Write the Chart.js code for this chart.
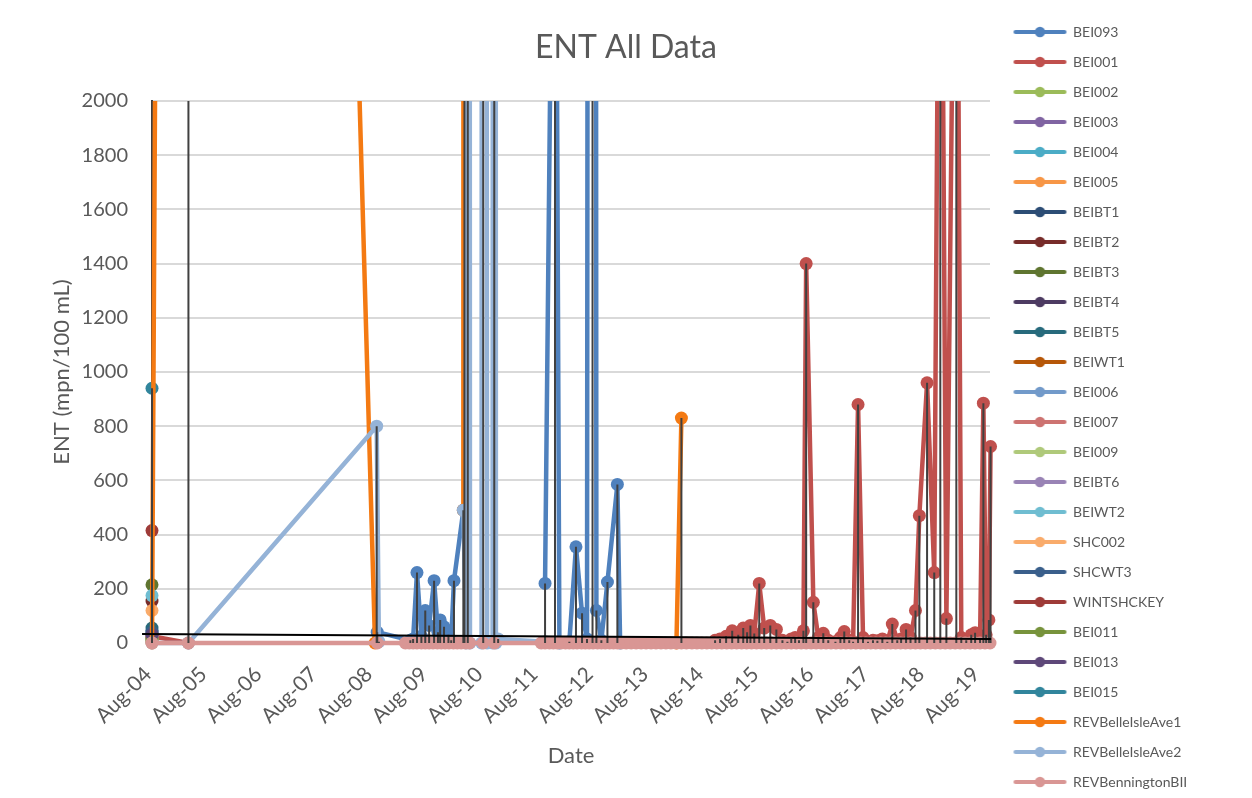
<!DOCTYPE html>
<html>
<head>
<meta charset="utf-8">
<title>ENT All Data</title>
<script src="https://cdn.jsdelivr.net/npm/chart.js@4.4.1/dist/chart.umd.min.js"></script>
<style>
  html, body { margin: 0; padding: 0; background: #ffffff; }
  #wrap { width: 1252px; height: 798px; }
</style>
</head>
<body>
<div id="wrap"><canvas id="entChart" width="1252" height="798"></canvas></div>
<script>
// Sample dates are decimal years; values are ENT in MPN/100 mL.
// A null entry marks a break in a station's record.

const tickYears  = [2004.58, 2005.58, 2006.58, 2007.58, 2008.58, 2009.58, 2010.58, 2011.58,
                    2012.58, 2013.58, 2014.58, 2015.58, 2016.58, 2017.58, 2018.58, 2019.58];
const tickLabels = ['Aug-04', 'Aug-05', 'Aug-06', 'Aug-07', 'Aug-08', 'Aug-09', 'Aug-10', 'Aug-11',
                    'Aug-12', 'Aug-13', 'Aug-14', 'Aug-15', 'Aug-16', 'Aug-17', 'Aug-18', 'Aug-19'];

const BEI093 = [
  [2008.66, 40], [2009.26, 10], [2009.31, 15], [2009.38, 260], [2009.46, 25], [2009.53, 120],
  [2009.60, 65], [2009.69, 230], [2009.76, 40], [2009.80, 85], [2009.87, 60], [2009.95, 30],
  [2010.00, 10], [2010.05, 230], [2010.22, 490], null,
  [2011.70, 220], [2011.88, 3800], [2011.96, 0], [2012.14, 5], [2012.26, 355], [2012.37, 110],
  [2012.46, 15], [2012.56, 24196], [2012.63, 120], [2012.72, 10], [2012.83, 225], [2013.01, 585],
  [2013.06, 0]
];
const BEI001 = [
  [2004.58, 25], [2005.24, 0], null,
  [2014.78, 10], [2014.87, 15], [2014.98, 25], [2015.09, 45], [2015.20, 30], [2015.29, 55],
  [2015.36, 40], [2015.42, 65], [2015.49, 35], [2015.58, 220], [2015.67, 55], [2015.78, 65],
  [2015.89, 50], [2016.00, 10], [2016.09, 5], [2016.16, 15], [2016.23, 20], [2016.30, 10],
  [2016.38, 45], [2016.43, 1400], [2016.56, 150], [2016.65, 20], [2016.74, 36], [2016.83, 10],
  [2016.96, 5], [2017.05, 20], [2017.12, 42], [2017.21, 10], [2017.28, 5], [2017.37, 880],
  [2017.46, 20], [2017.55, 5], [2017.64, 10], [2017.72, 8], [2017.81, 15], [2017.90, 5],
  [2017.99, 70], [2018.08, 10], [2018.15, 15], [2018.24, 50], [2018.32, 20], [2018.41, 120],
  [2018.48, 470], [2018.62, 960], [2018.75, 260], [2018.86, 3700], [2018.97, 90], [2019.15, 3600],
  [2019.24, 20], [2019.33, 10], [2019.42, 30], [2019.49, 38], [2019.58, 15], [2019.64, 885],
  [2019.69, 30], [2019.74, 85], [2019.77, 725]
];
const BEI002 = [[2004.58, 20]];
const BEI003 = [[2004.58, 30]];
const BEI004 = [[2004.58, 15]];
const BEI005 = [[2004.58, 10]];
const BEIBT1 = [[2004.58, 45]];
const BEIBT2 = [[2004.58, 155]];
const BEIBT3 = [[2004.58, 215]];
const BEIBT4 = [[2004.58, 35]];
const BEIBT5 = [[2004.58, 55]];
const BEIWT1 = [[2004.58, 20]];
const BEI006 = [[2004.58, 10]];
const BEI007 = [[2004.58, 5]];
const BEI009 = [[2004.58, 10]];
const BEIBT6 = [[2004.58, 25]];
const BEIWT2 = [[2004.58, 175]];
const SHC002 = [[2004.58, 120]];
const SHCWT3 = [[2004.58, 40]];
const WINTSHCKEY = [[2004.58, 415]];
const BEI011 = [[2004.58, 15]];
const BEI013 = [[2004.58, 30]];
const BEI015 = [[2004.58, 940]];
const REVBelleIsleAve1 = [
  [2004.58, 0], [2005.24, 24196], [2008.62, 0], null,
  [2010.22, 490], [2010.24, 24196], null,
  [2014.08, 0], [2014.17, 830]
];
const REVBelleIsleAve2 = [
  [2004.58, 0], [2005.24, 0], [2008.65, 800], [2008.69, 5], null,
  [2010.22, 490], [2010.27, 0], [2010.30, 24196], [2010.34, 0], [2010.55, 0], [2010.58, 24196],
  [2010.65, 0], [2010.75, 0], [2010.78, 24196], [2010.81, 0], [2010.85, 15], [2011.70, 5]
];
const REVBenningtonBII = [
  [2004.58, 0], [2005.24, 0], [2008.66, 0],
  [2009.17, 0], [2009.24, 0], [2009.31, 0], [2009.38, 0], [2009.46, 0], [2009.53, 0], [2009.60, 0],
  [2009.67, 0], [2009.75, 0], [2009.82, 0], [2009.89, 0], [2009.96, 0], [2010.04, 0], [2010.11, 0],
  [2010.18, 0], [2010.26, 0], [2010.33, 0], [2010.58, 0], [2010.78, 0],
  [2011.63, 0], [2011.70, 0], [2011.78, 0], [2011.85, 0], [2011.92, 0], [2011.99, 0], [2012.07, 0],
  [2012.14, 0], [2012.21, 0], [2012.28, 0], [2012.36, 0], [2012.43, 0], [2012.50, 0], [2012.57, 0],
  [2012.65, 0], [2012.72, 0], [2012.79, 0], [2012.87, 0], [2012.94, 0], [2013.01, 0], [2013.08, 0],
  [2013.17, 0], [2013.26, 0], [2013.35, 0], [2013.44, 0], [2013.53, 0], [2013.62, 0], [2013.71, 0],
  [2013.80, 0], [2013.89, 0], [2013.98, 0], [2014.08, 0], [2014.17, 0], [2014.26, 0], [2014.36, 0],
  [2014.45, 0], [2014.54, 0], [2014.63, 0], [2014.72, 0], [2014.81, 0], [2014.90, 0], [2014.99, 0],
  [2015.08, 0], [2015.17, 0], [2015.26, 0], [2015.35, 0], [2015.44, 0], [2015.53, 0], [2015.62, 0],
  [2015.71, 0], [2015.80, 0], [2015.89, 0], [2015.98, 0], [2016.07, 0], [2016.16, 0], [2016.25, 0],
  [2016.34, 0], [2016.43, 0], [2016.52, 0], [2016.61, 0], [2016.70, 0], [2016.79, 0], [2016.88, 0],
  [2016.97, 0], [2017.06, 0], [2017.15, 0], [2017.24, 0], [2017.33, 0], [2017.42, 0], [2017.51, 0],
  [2017.60, 0], [2017.69, 0], [2017.78, 0], [2017.87, 0], [2017.96, 0], [2018.05, 0], [2018.14, 0],
  [2018.23, 0], [2018.32, 0], [2018.41, 0], [2018.50, 0], [2018.59, 0], [2018.68, 0], [2018.77, 0],
  [2018.86, 0], [2018.95, 0], [2019.04, 0], [2019.13, 0], [2019.22, 0], [2019.31, 0], [2019.40, 0],
  [2019.49, 0], [2019.58, 0], [2019.67, 0], [2019.76, 0]
];

// Linear trend across all stations (end points).
const trendEnds = [[2004.40, 33], [2019.78, 15]];

const seriesNames = ['BEI093', 'BEI001', 'BEI002', 'BEI003', 'BEI004', 'BEI005', 'BEIBT1', 'BEIBT2',
  'BEIBT3', 'BEIBT4', 'BEIBT5', 'BEIWT1', 'BEI006', 'BEI007', 'BEI009', 'BEIBT6', 'BEIWT2', 'SHC002',
  'SHCWT3', 'WINTSHCKEY', 'BEI011', 'BEI013', 'BEI015', 'REVBelleIsleAve1', 'REVBelleIsleAve2',
  'REVBenningtonBII'];
const seriesData = [BEI093, BEI001, BEI002, BEI003, BEI004, BEI005, BEIBT1, BEIBT2, BEIBT3, BEIBT4,
  BEIBT5, BEIWT1, BEI006, BEI007, BEI009, BEIBT6, BEIWT2, SHC002, SHCWT3, WINTSHCKEY, BEI011, BEI013,
  BEI015, REVBelleIsleAve1, REVBelleIsleAve2, REVBenningtonBII];
const seriesColors = ['#4F81BD', '#C0504D', '#9BBB59', '#8064A2', '#4BACC6', '#F79646', '#2C4D75',
  '#772C2A', '#5F7530', '#4D3B62', '#276A7C', '#B65708', '#729ACA', '#CD7371', '#AFC97A', '#9983B5',
  '#6FBDD1', '#F9AB6B', '#3A5F8B', '#9E3B38', '#77933C', '#5E4879', '#31859C', '#F47A13', '#95B3D7',
  '#D99694'];

// ---- layout constants ----
const TEXT = '#595959';
const FONT = 'Lato';
const PLOT_RIGHT = 990;
const LEGEND_LEFT = 998;
const LEGEND_DROP = 9;

function toPoints(pairs) {
  const out = [];
  let lastX = null;
  pairs.forEach(p => {
    if (p === null) { out.push({ x: lastX, y: null }); }
    else { out.push({ x: p[0], y: p[1] }); lastX = p[0]; }
  });
  return out;
}

// Drop lines: each sample joined to the category axis.
function dropLinePoints() {
  const out = [];
  seriesData.forEach(pairs => pairs.forEach(p => {
    if (p && p[1] > 0) out.push({ x: p[0], y: 0 }, { x: p[0], y: p[1] }, { x: p[0], y: null });
  }));
  return out;
}

function legendIcon(color) {
  const c = document.createElement('canvas');
  c.width = 55; c.height = 14;
  const g = c.getContext('2d');
  g.strokeStyle = color; g.lineWidth = 4; g.lineCap = 'round';
  g.beginPath(); g.moveTo(3, 7); g.lineTo(52, 7); g.stroke();
  g.fillStyle = color;
  g.beginPath(); g.arc(27.5, 7, 5.2, 0, Math.PI * 2); g.fill();
  return c;
}
const legendIcons = seriesColors.map(legendIcon);

const plotClip = { left: false, top: 0, right: false, bottom: false };
const N = seriesNames.length;

const datasets = seriesNames.map((name, i) => ({
  label: name,
  data: toPoints(seriesData[i]),
  borderColor: seriesColors[i],
  backgroundColor: seriesColors[i],
  pointBackgroundColor: seriesColors[i],
  pointBorderColor: seriesColors[i],
  pointBorderWidth: 0,
  pointRadius: 6.5,
  pointHoverRadius: 6.5,
  borderWidth: 4.5,
  borderJoinStyle: 'round',
  borderCapStyle: 'round',
  tension: 0,
  spanGaps: false,
  clip: plotClip,
  order: 100 - i
}));

datasets.push({
  label: 'drop lines',
  data: dropLinePoints(),
  borderColor: '#404040',
  borderWidth: 2,
  pointRadius: 0,
  spanGaps: false,
  clip: plotClip,
  order: 2
});
datasets.push({
  label: 'trend',
  data: toPoints(trendEnds),
  borderColor: '#000000',
  borderWidth: 2,
  pointRadius: 0,
  clip: plotClip,
  order: 1
});

// Places the legend column beside the plot.
const legendPlacement = {
  id: 'legendPlacement',
  afterLayout(chart) {
    const lg = chart.legend;
    if (!lg) return;
    const dx = LEGEND_LEFT - lg.left;
    lg.left += dx; lg.right += dx;
    lg.top += LEGEND_DROP; lg.bottom += LEGEND_DROP;
  }
};

Chart.defaults.font.family = FONT;
Chart.defaults.color = TEXT;

new Chart(document.getElementById('entChart'), {
  type: 'line',
  data: { datasets },
  plugins: [legendPlacement],
  options: {
    responsive: false,
    animation: false,
    devicePixelRatio: 1,
    events: [],
    layout: { padding: 0 },
    plugins: {
      tooltip: { enabled: false },
      title: {
        display: true,
        text: 'ENT All Data',
        color: TEXT,
        font: { family: FONT, size: 32, weight: 'normal' },
        padding: { top: 28.8, bottom: 33.8 }
      },
      legend: {
        position: 'right',
        align: 'start',
        labels: {
          usePointStyle: true,
          pointStyleWidth: 52,
          padding: 16,
          color: TEXT,
          font: { family: FONT, size: 14 },
          filter: item => item.datasetIndex < N,
          sort: (a, b) => a.datasetIndex - b.datasetIndex,
          generateLabels(chart) {
            const items = Chart.defaults.plugins.legend.labels.generateLabels(chart);
            items.forEach(it => { if (it.datasetIndex < N) it.pointStyle = legendIcons[it.datasetIndex]; });
            return items;
          }
        }
      }
    },
    scales: {
      x: {
        type: 'linear',
        min: 2004.58,
        max: 2019.76,
        afterBuildTicks(axis) { axis.ticks = tickYears.map(v => ({ value: v })); },
        afterFit(axis) { axis.height = 155; },
        grid: { display: false, drawTicks: false },
        border: { display: false },
        ticks: {
          autoSkip: false,
          minRotation: 45,
          maxRotation: 45,
          labelOffset: -4,
          padding: 19,
          color: TEXT,
          font: { family: FONT, size: 21 },
          callback: (v, i) => tickLabels[i]
        },
        title: {
          display: true,
          text: 'Date',
          color: TEXT,
          font: { family: FONT, size: 22 },
          padding: { top: 0, bottom: 28.8 }
        }
      },
      y: {
        min: 0,
        max: 2000,
        afterFit(axis) { axis.width = 152; },
        grid: { color: '#D9D9D9', lineWidth: 2, drawTicks: false },
        border: { display: true, color: '#404040', width: 2 },
        ticks: {
          stepSize: 200,
          padding: 24,
          color: TEXT,
          font: { family: FONT, size: 20 },
          callback: v => String(v)
        },
        title: {
          display: true,
          text: 'ENT (mpn/100 mL)',
          color: TEXT,
          font: { family: FONT, size: 22 },
          padding: { top: 49, bottom: 0 }
        }
      },
      yGap: {
        position: 'right',
        display: true,
        grid: { display: false },
        border: { display: false },
        ticks: { display: false },
        afterFit(axis) {
          const lg = axis.chart.legend;
          axis.width = Math.max(0, axis.chart.width - (lg ? lg.width : 0) - PLOT_RIGHT);
        }
      }
    }
  }
});
</script>
</body>
</html>
